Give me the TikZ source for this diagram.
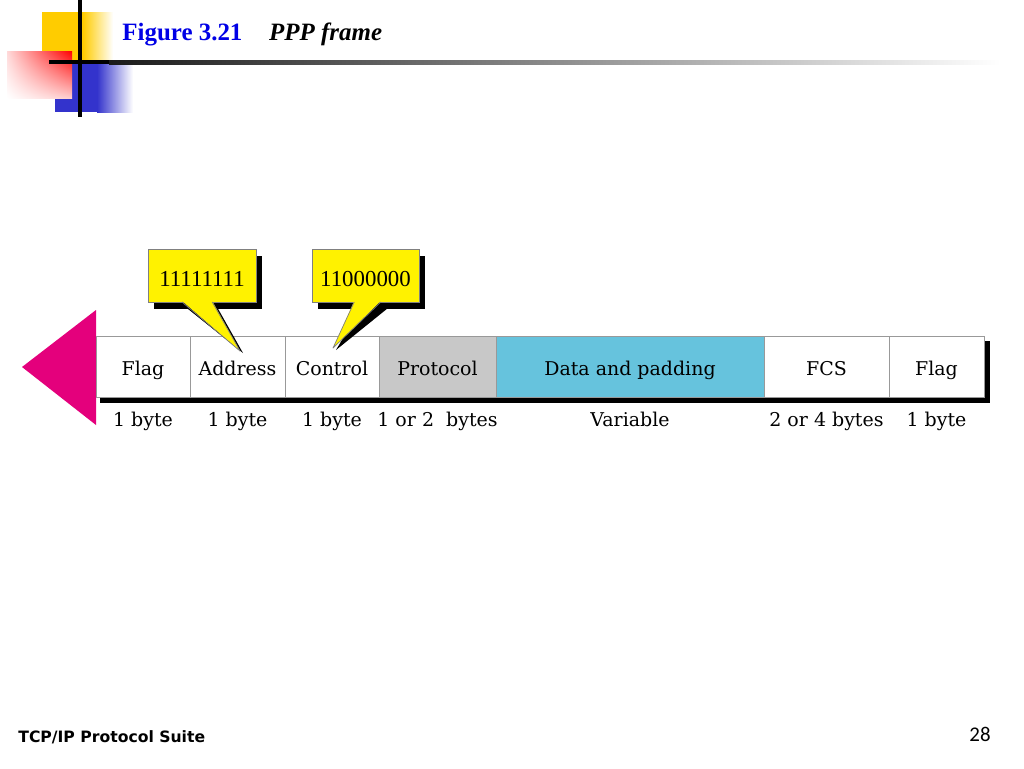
\documentclass[tikz,border=0pt]{standalone}
\usepackage{fontspec}
\setmainfont{DejaVu Serif}
\newfontfamily\titlefont{Liberation Serif}
\newfontfamily\footfont{DejaVu Sans}
\newfontfamily\numfont{Carlito}
\usetikzlibrary{calc,positioning,shadows,shadings}
\definecolor{pppmagenta}{RGB}{228,0,124}
\definecolor{datablue}{RGB}{102,195,221}
\definecolor{protgray}{RGB}{200,200,200}
\definecolor{figblue}{RGB}{0,0,230}
\definecolor{gold}{RGB}{255,204,0}
\definecolor{sqblue}{RGB}{51,51,204}
\newcommand\fieldsize{\fontsize{10.8}{13}\selectfont}

\begin{document}
\begin{tikzpicture}[x=0.02cm, y=-0.02cm,
    field/.style={draw=gray!80, line width=0.5pt, fill=white, minimum height=1.22cm,
      inner sep=0pt, outer sep=0pt, text height=0.4cm, text depth=0.06cm, font=\fieldsize},
    size/.style={anchor=base, inner sep=0pt, font=\fieldsize},
    bits/.style={fill=yellow, draw=black!50, line width=0.4pt, minimum height=1.06cm,
      inner sep=0pt, outer sep=0pt, text height=0.46cm, text depth=0.04cm,
      font=\titlefont\fontsize{13}{15}\selectfont,
      drop shadow={shadow xshift=0.12cm, shadow yshift=-0.14cm, fill=black, opacity=1}},
    edge/.style={draw=black!50, line width=0.4pt, line join=round},
    title/.style={anchor=base west, inner sep=0pt, font=\titlefont\bfseries\fontsize{14.2}{17}\selectfont}]
    \fill[white] (0,0) rectangle (1024,768);
    \useasboundingbox (0,0) rectangle (1024,768);

    \fill[gold] (42,12) rectangle (84,62);
    \shade[left color=gold, right color=white] (83,12) rectangle (113,62);
    \fill[sqblue] (55,62) rectangle (98,112);
    \shade[left color=sqblue, right color=white] (97,62) rectangle (133,112);
    \shade[upper right=red, upper left=red!15, lower right=red!20, lower left=white] (7,51) rectangle (72,98);
    \fill[black] (49,60) rectangle (110,64);
    \shade[left color=black!90, right color=white] (109,60) rectangle (1000,64);
    \fill[black] (78,0) rectangle (82,117);

    \node (figNo) at (122,40) [title, text=figblue] {Figure 3.21};
    \node (figName) [title, font=\titlefont\bfseries\itshape\fontsize{14.2}{17}\selectfont,
      right=0.52cm of figNo.base east, anchor=base west] {PPP frame};

    \fill[pppmagenta] (22,367) -- (96,310) -- (96,425) -- cycle;
    \fill[black] (100,341) rectangle (990,403);

    \node (flagA) at (143,366.5) [field, minimum width=1.88cm] {Flag};
    \node (addr) at (237.5,366.5) [field, minimum width=1.90cm] {Address};
    \node (ctrl) at (332,366.5) [field, minimum width=1.88cm] {Control};
    \node (proto) at (437.5,366.5) [field, fill=protgray, minimum width=2.34cm] {Protocol};
    \node (data) at (630,366.5) [field, fill=datablue, minimum width=5.36cm] {Data and padding};
    \node (fcs) at (826.5,366.5) [field, minimum width=2.50cm] {FCS};
    \node (flagB) at (936.5,366.5) [field, minimum width=1.90cm] {Flag};

    \node (szFlagA) at (143,426) [size] {1 byte};
    \node (szAddr) at (237.5,426) [size] {1 byte};
    \node (szCtrl) at (332,426) [size] {1 byte};
    \node (szProto) at (437.5,426) [size] {1 or 2~~bytes};
    \node (szData) at (630,426) [size] {Variable};
    \node (szFcs) at (826.5,426) [size] {2 or 4 bytes};
    \node (szFlagB) at (936.5,426) [size] {1 byte};

    \node (bitsA) at (202,275.5) [bits, minimum width=2.16cm] {11111111};
    \node (bitsB) at (365.5,275.5) [bits, minimum width=2.14cm] {11000000};
    \coordinate (tipA) at (240,351);
    \coordinate (tipB) at (333,348);

    \fill[black] ([shift={(6,7)}]bitsA.-127) -- ([shift={(3,2)}]tipA) -- ([shift={(6,7)}]bitsA.-69) -- cycle;
    \fill[yellow] ([yshift=0.6pt]bitsA.-127) -- (tipA) -- ([yshift=0.6pt]bitsA.-69) -- cycle;
    \draw[edge] (bitsA.-127) -- (tipA) -- (bitsA.-69);
    \fill[black] ([shift={(6,7)}]bitsB.-113) -- ([shift={(3,2)}]tipB) -- ([shift={(6,7)}]bitsB.-60) -- cycle;
    \fill[yellow] ([yshift=0.6pt]bitsB.-113) -- (tipB) -- ([yshift=0.6pt]bitsB.-60) -- cycle;
    \draw[edge] (bitsB.-113) -- (tipB) -- (bitsB.-60);

    \node (suite) at (18,742) [anchor=base west, inner sep=0pt,
      font=\footfont\bfseries\fontsize{8.9}{11}\selectfont] {TCP/IP Protocol Suite};
    \node (page) at (991,741) [anchor=base east, inner sep=0pt,
      font=\numfont\fontsize{11.9}{14}\selectfont] {28};
\end{tikzpicture}
\end{document}
